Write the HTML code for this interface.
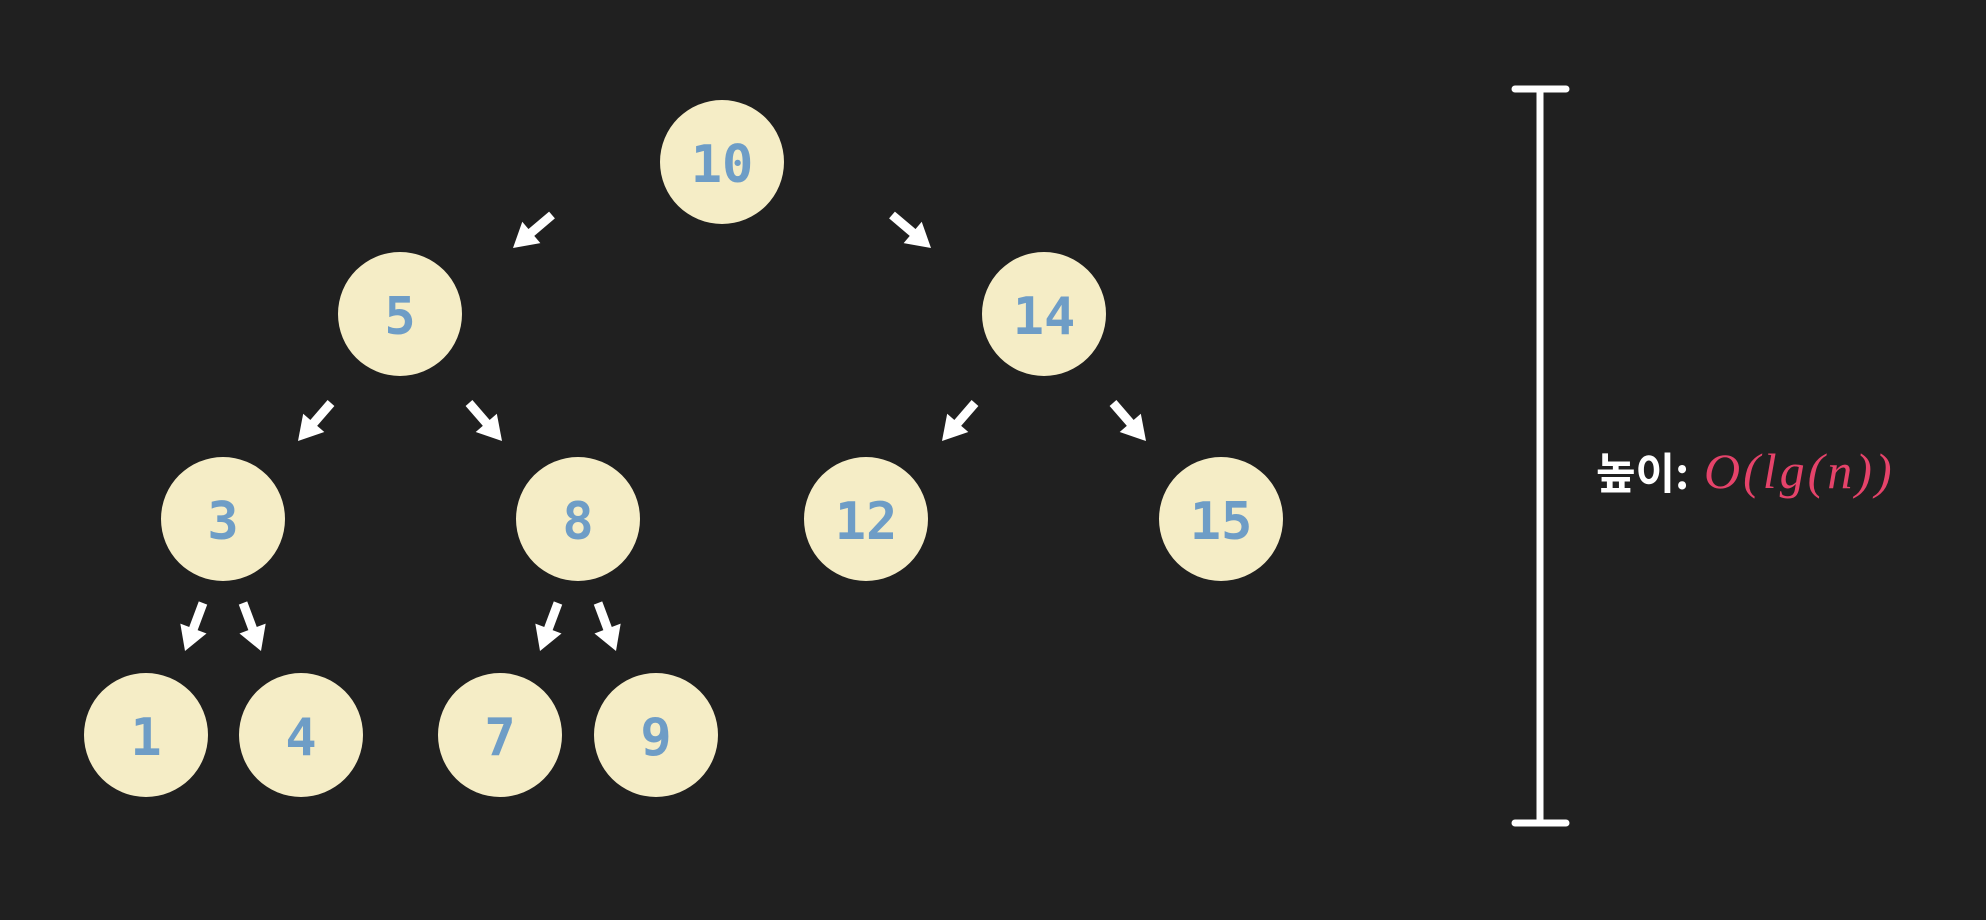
<!DOCTYPE html>
<html><head><meta charset="utf-8">
<style>
html,body{margin:0;padding:0;background:#202020;}
svg{display:block;}
</style></head>
<body>
<svg id="chart" width="1986" height="920" viewBox="0 0 1986 920" xmlns="http://www.w3.org/2000/svg">
<rect x="0" y="0" width="1986" height="920" fill="#202020"/>
<g id="edges"></g>
<g id="nodes"></g>
<g stroke="#ffffff" stroke-width="7" stroke-linecap="round">
<line x1="1540" y1="89" x2="1540" y2="823"/>
<line x1="1515" y1="89" x2="1566" y2="89"/>
<line x1="1515" y1="823" x2="1566" y2="823"/>
</g>
<text x="1596" y="489" font-family="'Noto Sans CJK KR','Liberation Sans',sans-serif" font-size="43" font-weight="bold" fill="#ffffff">높이:</text>
<text x="1704" y="488" font-family="'Liberation Serif',serif" font-style="italic" font-size="50" fill="#e5436a" letter-spacing="3">O(lg(n))</text>
</svg>
<script>
const nodeValues=[10,5,14,3,8,12,15,1,4,7,9];
const nodeX=[722,400,1044,223,578,866,1221,146,301,500,656];
const nodeY=[162,314,314,519,519,519,519,735,735,735,735];
const edgeFrom=[0,0,1,1,2,2,3,3,4,4];
const edgeTo=[1,2,3,4,5,6,7,8,9,10];
const NS="http://www.w3.org/2000/svg";
const R=62;
const arrowGeom=[[170,53,209,86],[69,89,102,127],[20,84,38,132]];
const depth=[0,1,1,2,2,2,2,3,3,3,3];
const ng=document.getElementById('nodes');
const eg=document.getElementById('edges');
for(let i=0;i<nodeValues.length;i++){
  const g=document.createElementNS(NS,'g');
  
  
  const c=document.createElementNS(NS,'circle');
  c.setAttribute('cx',nodeX[i]);c.setAttribute('cy',nodeY[i]);c.setAttribute('r',R);
  c.setAttribute('fill','#f5edc6');
  
  
  const t=document.createElementNS(NS,'text');
  t.setAttribute('x',nodeX[i]);t.setAttribute('y',nodeY[i]+20);
  t.setAttribute('text-anchor','middle');
  t.setAttribute('font-family',"'DejaVu Sans Mono','Liberation Mono',monospace");
  t.setAttribute('font-size','52');t.setAttribute('font-weight','bold');
  t.setAttribute('fill','#6e9dc6');
  
  
  t.textContent=nodeValues[i];
  g.appendChild(c);g.appendChild(t);ng.appendChild(g);
}
for(let k=0;k<edgeFrom.length;k++){
  const a=edgeFrom[k],b=edgeTo[k];
  const s=Math.sign(nodeX[b]-nodeX[a]);
  const ag=arrowGeom[depth[a]];
  const x0=nodeX[a]+s*ag[0],y0=nodeY[a]+ag[1],x1=nodeX[a]+s*ag[2],y1=nodeY[a]+ag[3];
  const dx=x1-x0,dy=y1-y0,L=Math.hypot(dx,dy),ux=dx/L,uy=dy/L;
  const hx=x1-ux*24,hy=y1-uy*24,px=-uy,py=ux;
  const g=document.createElementNS(NS,'g');
  
  
  const l=document.createElementNS(NS,'line');
  l.setAttribute('x1',x0);l.setAttribute('y1',y0);l.setAttribute('x2',hx+ux*2);l.setAttribute('y2',hy+uy*2);
  l.setAttribute('stroke','#fff');l.setAttribute('stroke-width','9');
  const p=document.createElementNS(NS,'polygon');
  p.setAttribute('points',`${x1},${y1} ${hx+px*14},${hy+py*14} ${hx-px*14},${hy-py*14}`);
  p.setAttribute('fill','#fff');
  g.appendChild(l);g.appendChild(p);eg.appendChild(g);
}
</script>
</body></html>
